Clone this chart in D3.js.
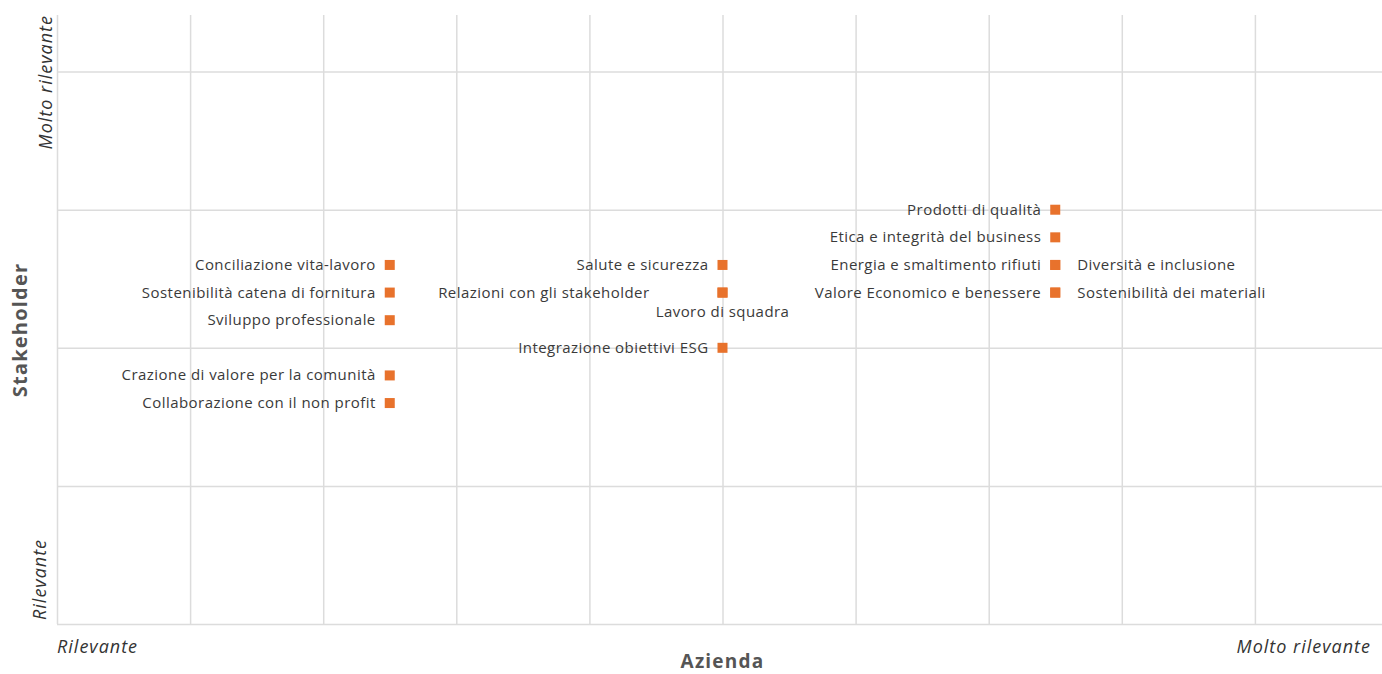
<!DOCTYPE html>
<html>
<head>
<meta charset="utf-8">
<script src="https://cdn.jsdelivr.net/npm/d3@7"></script>
<style>
  body { margin: 0; background: #fff; }
  svg { display: block; font-family: "Open Sans", sans-serif; }
  .grid line { stroke: #dcdcdc; stroke-width: 1.5; }
  .grid .domain { display: none; }
</style>
</head>
<body>
<svg class="chart"></svg>
<script>
// topics on the materiality matrix
var topics = [
  "Conciliazione vita-lavoro", "Sostenibilità catena di fornitura", "Sviluppo professionale",
  "Crazione di valore per la comunità", "Collaborazione con il non profit",
  "Salute e sicurezza", "Relazioni con gli stakeholder", "Lavoro di squadra", "Integrazione obiettivi ESG",
  "Prodotti di qualità", "Etica e integrità del business", "Energia e smaltimento rifiuti",
  "Diversità e inclusione", "Valore Economico e benessere", "Sostenibilità dei materiali"
];
var azienda     = [2.5, 2.5, 2.5, 2.5, 2.5, 5, 5, 5, 5, 7.5, 7.5, 7.5, 7.5, 7.5, 7.5];
var stakeholder = [2.6, 2.4, 2.2, 1.8, 1.6, 2.6, 2.4, 2.4, 2.0, 3.0, 2.8, 2.6, 2.6, 2.4, 2.4];
// where each label sits relative to its marker
var labelSide = ["left", "left", "left", "left", "left", "left", "farLeft", "below", "left",
                 "left", "left", "left", "right", "left", "right"];

var xTicks = [0, 1, 2, 3, 4, 5, 6, 7, 8, 9, 10];
var yTicks = [0, 1, 2, 3, 4];
var xEnds = ["Rilevante", "Molto rilevante"];
var yEnds = ["Rilevante", "Molto rilevante"];

var W = 1382, H = 674;
var margin = {top: 15, left: 57, bottom: 50};
var plotBottom = H - margin.bottom; // 624

var x = d3.scaleLinear().domain([0, 10]).range([margin.left, 1388]);
var y = d3.scaleLinear().domain([0, 4.41]).range([plotBottom, margin.top]);

var chart = d3.select('.chart').attr('width', W).attr('height', H);

// gridlines
chart.append('g').attr('class', 'grid')
  .attr('transform', 'translate(0,' + plotBottom + ')')
  .call(d3.axisBottom(x).tickValues(xTicks).tickSize(-(plotBottom - margin.top)).tickFormat(''));
chart.append('g').attr('class', 'grid')
  .attr('transform', 'translate(' + margin.left + ',0)')
  .call(d3.axisLeft(y).tickValues(yTicks).tickSize(-(1388 - margin.left)).tickFormat(''));

function endLabel(sel) {
  return sel.style('font-style', 'italic').style('font-size', '18px')
    .style('letter-spacing', '1px').attr('fill', '#333');
}

// x axis end labels
endLabel(chart.append('text').attr('x', x(0)).attr('y', 653)).text(xEnds[0]);
endLabel(chart.append('text').attr('x', 1371).attr('y', 653).attr('text-anchor', 'end')).text(xEnds[1]);

// y axis end labels
endLabel(chart.append('text').attr('transform', 'translate(46,' + (y(0) - 4) + ') rotate(-90)')).text(yEnds[0]);
endLabel(chart.append('text').attr('transform', 'translate(52,' + margin.top + ') rotate(-90)')
  .attr('text-anchor', 'end')).text(yEnds[1]);

// axis titles
chart.append('text').attr('x', x(5)).attr('y', 668).attr('text-anchor', 'middle')
  .style('font-weight', 'bold').style('font-size', '19px').style('letter-spacing', '1.2px')
  .attr('fill', '#555')
  .text('Azienda');
chart.append('text').attr('transform', 'translate(27,' + 330 + ') rotate(-90)')
  .attr('text-anchor', 'middle')
  .style('font-weight', 'bold').style('font-size', '20px').style('letter-spacing', '1.2px')
  .attr('fill', '#555')
  .text('Stakeholder');

// markers
var pts = chart.append('g');
pts.selectAll('rect')
  .data(topics)
  .enter().append('rect')
  .attr('x', function (d, i) { return x(azienda[i]) - 5; })
  .attr('y', function (d, i) { return y(stakeholder[i]) - 5; })
  .attr('width', 10).attr('height', 10)
  .attr('fill', '#e8722c');

// labels
pts.selectAll('text')
  .data(topics)
  .enter().append('text')
  .attr('x', function (d, i) {
    var s = labelSide[i], px = x(azienda[i]);
    if (s == 'left') return px - 14;
    if (s == 'farLeft') return px - 73;
    if (s == 'right') return px + 22;
    return px;
  })
  .attr('y', function (d, i) {
    return y(stakeholder[i]) + (labelSide[i] == 'below' ? 24 : 5);
  })
  .attr('text-anchor', function (d, i) {
    var s = labelSide[i];
    return s == 'right' ? 'start' : (s == 'below' ? 'middle' : 'end');
  })
  .style('font-size', '15px')
  .style('letter-spacing', '0.45px')
  .attr('fill', '#3a3a3a')
  .text(function (d) { return d; });
</script>
</body>
</html>
